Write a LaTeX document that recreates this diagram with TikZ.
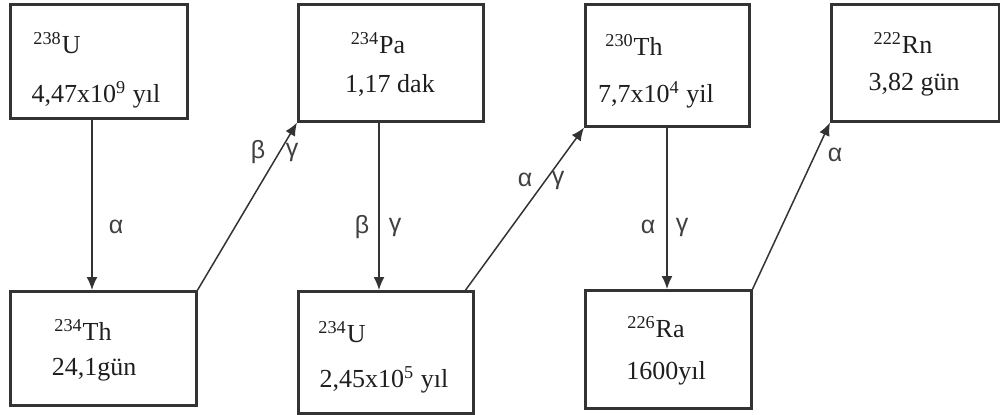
\documentclass[tikz,border=0pt]{standalone}
\usepackage{fontspec}
\setmainfont{Liberation Serif}
\newfontfamily\grfont{Liberation Sans}
\usetikzlibrary{arrows.meta}
\definecolor{ln}{HTML}{333333}
\definecolor{tx}{HTML}{1E1E1E}
\begin{document}
\begin{tikzpicture}[x=0.5pt,y=-0.5pt,
  box/.style={draw=ln,line width=1.3pt,rectangle,anchor=north west,inner sep=0pt},
  top/.style={text=tx,font=\fontsize{13}{15}\selectfont,inner sep=0pt},
  bot/.style={text=tx,font=\fontsize{13}{15}\selectfont,inner sep=0pt},
  arr/.style={draw=ln,line width=0.75pt,-{Latex[length=6.5pt,width=5.5pt]}},
  lab/.style={text=tx!85,font=\grfont\fontsize{12.5}{14}\selectfont,inner sep=0pt}]
\useasboundingbox (0,0) rectangle (1000,414);
% boxes
\node[box,minimum width=88.5pt,minimum height=57pt] (b1) at (9,3) {};
\node[box,minimum width=92.5pt,minimum height=58.5pt] (b2) at (297,3) {};
\node[box,minimum width=82pt,minimum height=61pt] (b3) at (584,3) {};
\node[box,minimum width=84pt,minimum height=58.5pt] (b4) at (830,3) {};
\node[box,minimum width=93pt,minimum height=57pt] (b5) at (9,290) {};
\node[box,minimum width=87.5pt,minimum height=61pt] (b6) at (297,290) {};
\node[box,minimum width=83pt,minimum height=59pt] (b7) at (584,289) {};
% texts
\node[top] (t1a) at (57,43) {\textsuperscript{238}U};
\node[bot] (t1b) at (96,95) {4,47x10\textsuperscript{9} yıl};
\node[top] (t2a) at (378,43) {\textsuperscript{234}Pa};
\node[bot] (t2b) at (390,85) {1,17 dak};
\node[top] (t3a) at (634,45) {\textsuperscript{230}Th};
\node[bot] (t3b) at (656,95) {7,7x10\textsuperscript{4} yil};
\node[top] (t4a) at (903,43) {\textsuperscript{222}Rn};
\node[bot] (t4b) at (914,85) {3,82 gün};
\node[top] (t5a) at (83,330) {\textsuperscript{234}Th};
\node[bot] (t5b) at (94,370) {24,1gün};
\node[top] (t6a) at (342,332) {\textsuperscript{234}U};
\node[bot] (t6b) at (384,380) {2,45x10\textsuperscript{5} yıl};
\node[top] (t7a) at (656,327) {\textsuperscript{226}Ra};
\node[bot] (t7b) at (666,373) {1600yıl};
% connectors
\coordinate (c1) at (92,0);
\coordinate (c3) at (379,0);
\coordinate (c5) at (667,0);
\draw[arr] (b1.south -| c1) -- (b5.north -| c1);
\draw[arr] (b5.north east) -- (b2.south west);
\draw[arr] (b2.south -| c3) -- (b6.north -| c3);
\draw[arr] ([xshift=-4.5pt]b6.north east) -- (b3.south west);
\draw[arr] (b3.south -| c5) -- (b7.north -| c5);
\draw[arr] (b7.north east) -- (b4.south west);
% labels
\node[lab] (l1) at (116,227) {α};
\node[lab] (l2) at (258,152) {β};
\node[lab] (l3) at (292,152) {γ};
\node[lab] (l4) at (362,227) {β};
\node[lab] (l5) at (395,227) {γ};
\node[lab] (l6) at (525,180) {α};
\node[lab] (l7) at (558,180) {γ};
\node[lab] (l8) at (648,227) {α};
\node[lab] (l9) at (682,227) {γ};
\node[lab] (l10) at (835,155) {α};
\end{tikzpicture}
\end{document}
